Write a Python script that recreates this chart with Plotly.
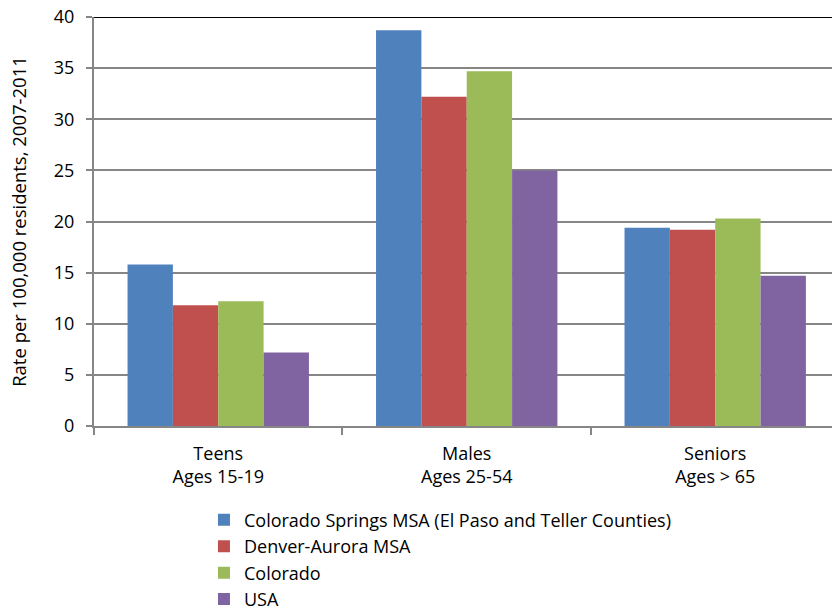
import plotly.graph_objects as go

categories = ["Teens<br>Ages 15-19", "Males<br>Ages 25-54", "Seniors<br>Ages > 65"]
series_names = [
    "Colorado Springs MSA (El Paso and Teller Counties)",
    "Denver-Aurora MSA",
    "Colorado",
    "USA",
]
springs = [15.8, 38.7, 19.4]
denver = [11.8, 32.2, 19.2]
colorado = [12.2, 34.7, 20.3]
usa = [7.2, 25.0, 14.7]
colors = ["#4F81BD", "#C0504D", "#9BBB59", "#8064A2"]
y_ticks = [0, 5, 10, 15, 20, 25, 30, 35, 40]

FONT = "'Open Sans', sans-serif"

fig = go.Figure()
for name, vals, col in zip(series_names, [springs, denver, colorado, usa], colors):
    fig.add_trace(go.Bar(
        x=categories, y=vals, name=name,
        marker=dict(color=col, line=dict(width=0)),
    ))

fig.update_layout(
    width=832, height=610,
    margin=dict(l=94, r=0, t=17, b=184, autoexpand=False),
    paper_bgcolor="white", plot_bgcolor="white",
    barmode="group", bargap=0.27, bargroupgap=0,
    font=dict(family=FONT, color="black"),
    showlegend=True,
    legend=dict(
        x=0.149, y=-0.185, xanchor="left", yanchor="top",
        orientation="v", font=dict(size=18, family=FONT),
        itemsizing="constant", tracegroupgap=0, itemwidth=30,
    ),
    xaxis=dict(
        type="category", range=[-0.5, 2.47],
        showline=True, linecolor="#868686", linewidth=2,
        ticks="outside", tickson="boundaries", ticklen=7, tickcolor="#868686", tickwidth=1.5,
        tickfont=dict(size=18, family=FONT), showgrid=False, ticklabelstandoff=10,
    ),
    yaxis=dict(
        range=[0, 40], tickvals=y_ticks,
        showline=True, linecolor="#868686", linewidth=2,
        ticks="outside", ticklen=6, tickcolor="#868686", tickwidth=1.5,
        showgrid=True, gridcolor="#868686", gridwidth=1.5,
        tickfont=dict(size=18, family=FONT), ticklabelstandoff=8,
        title=dict(text="Rate per 100,000 residents, 2007-2011", font=dict(size=18.5, family=FONT), standoff=22),
        zeroline=False,
    ),
)
fig.add_shape(type="line", xref="paper", yref="y", x0=0, x1=1, y0=40, y1=40,
              line=dict(color="black", width=2))

fig.write_html("out.html", config={"displayModeBar": False},
               post_script="document.body.style.margin='0';document.body.style.padding='0';")
